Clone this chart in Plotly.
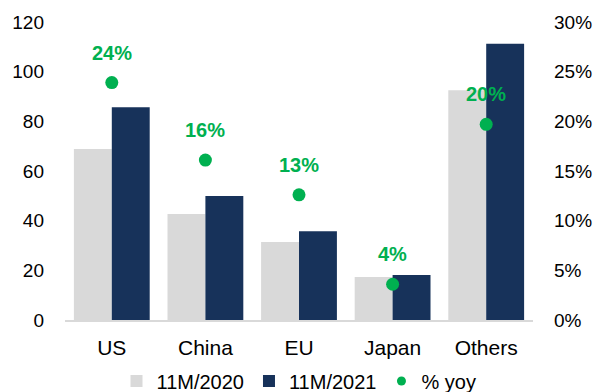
import plotly.graph_objects as go

# Export values by destination, USD billion
categories = ["US", "China", "EU", "Japan", "Others"]
exports_2020 = [68.9, 42.7, 31.4, 17.3, 92.5]
exports_2021 = [85.7, 49.9, 35.7, 18.1, 111.2]
yoy_growth = [0.239, 0.161, 0.126, 0.036, 0.197]

GRAY = "#D9D9D9"
NAVY = "#17325A"
GREEN = "#00B050"
FONT = "Liberation Sans, Arial, sans-serif"

fig = go.Figure()

fig.add_trace(go.Bar(
    x=categories, y=exports_2020, name="11M/2020",
    marker=dict(color=GRAY, line=dict(width=0)),
))
fig.add_trace(go.Bar(
    x=categories, y=exports_2021, name="11M/2021",
    marker=dict(color=NAVY, line=dict(width=0)),
))
fig.add_trace(go.Scatter(
    x=categories, y=yoy_growth, name="% yoy", yaxis="y2",
    mode="markers", marker=dict(color=GREEN, size=13),
    showlegend=False,
))
# legend entry with a smaller dot
fig.add_trace(go.Scatter(
    x=[None], y=[None], name="% yoy", yaxis="y2",
    mode="markers", marker=dict(color=GREEN, size=9),
))

# growth labels above the dots
for cat, g in zip(categories, yoy_growth):
    fig.add_annotation(
        x=cat, y=g, xref="x", yref="y2", yshift=30,
        text=f"{g * 100:.0f}%", showarrow=False,
        font=dict(family=FONT, size=20, color=GREEN, weight="bold"),
    )

fig.update_layout(
    width=598, height=392,
    margin=dict(l=65, r=65, t=22, b=72, autoexpand=False),
    paper_bgcolor="white", plot_bgcolor="white",
    barmode="group", bargap=0.19, bargroupgap=0,
    font=dict(family=FONT, size=19, color="#000000"),
    showlegend=True,
    legend=dict(
        orientation="h", x=0.5, xanchor="center",
        xref="container", yref="container", y=0.028, yanchor="middle",
        font=dict(size=20), itemwidth=30, tracegroupgap=0,
        traceorder="normal",
    ),
    xaxis=dict(
        showline=True, linecolor=GRAY, linewidth=2,
        ticks="", tickfont=dict(size=21), ticklabelstandoff=8,
        showgrid=False, zeroline=False, fixedrange=True,
    ),
    yaxis=dict(
        range=[0, 120], dtick=20, showgrid=False, zeroline=False,
        showline=False, ticks="", tickfont=dict(size=19),
        ticklabelstandoff=20,
    ),
    yaxis2=dict(
        range=[0, 0.30], dtick=0.05, tickformat=".0%", overlaying="y",
        side="right", showgrid=False, zeroline=False, showline=False,
        ticks="", tickfont=dict(size=19), ticklabelstandoff=20,
    ),
)

fig.write_html("out.html")
